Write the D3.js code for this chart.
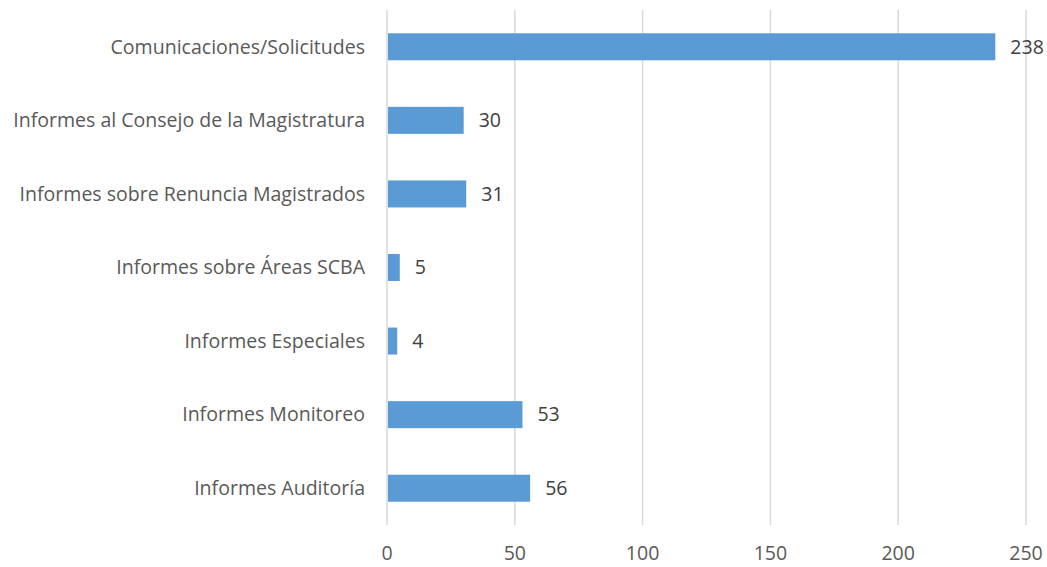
<!DOCTYPE html>
<html><head><meta charset="utf-8">
<script src="https://cdn.jsdelivr.net/npm/d3@7/dist/d3.min.js"></script>
<style>body{margin:0;background:#fff}svg{display:block}</style>
</head><body>
<svg id="chart" width="1047" height="567"></svg>
<script>
const categories = ["Comunicaciones/Solicitudes","Informes al Consejo de la Magistratura","Informes sobre Renuncia Magistrados","Informes sobre Áreas SCBA","Informes Especiales","Informes Monitoreo","Informes Auditoría"];
const values = [238,30,31,5,4,53,56];
const xTicks = [0,50,100,150,200,250];

const svg = d3.select("#chart");
const fontFam = "'Open Sans', sans-serif";
const x = d3.scaleLinear().domain([0,250]).range([387,1026]);
const y = d3.scaleBand().domain(categories).range([10,525]).paddingInner(0.633).paddingOuter(0.3165);

const probe = svg.append("text").attr("font-family",fontFam).attr("font-size",20).text(categories[1]);
const w20 = probe.node().getComputedTextLength();
probe.remove();
const fs = Math.min(21, 20*352/w20);

svg.append("g").selectAll("line").data(xTicks).join("line")
  .attr("x1",d=>x(d)).attr("x2",d=>x(d)).attr("y1",10).attr("y2",525)
  .attr("stroke","#d9d9d9").attr("stroke-width",1.5);

svg.append("g").selectAll("rect").data(values).join("rect")
  .attr("x",x(0)+1).attr("y",(d,i)=>y(categories[i]))
  .attr("width",d=>x(d)-x(0)-1).attr("height",y.bandwidth())
  .attr("fill","#5b9bd5");

svg.append("g").selectAll("text").data(values).join("text")
  .attr("x",d=>x(d)+15).attr("y",(d,i)=>y(categories[i])+y.bandwidth()/2)
  .attr("dy","0.35em").attr("font-family",fontFam).attr("font-size",fs)
  .attr("fill","#404040").text(d=>d);

svg.append("g").selectAll("text").data(categories).join("text")
  .attr("x",365).attr("y",d=>y(d)+y.bandwidth()/2).attr("dy","0.35em")
  .attr("text-anchor","end").attr("font-family",fontFam).attr("font-size",fs)
  .attr("fill","#595959").text(d=>d);

svg.append("g").selectAll("text").data(xTicks).join("text")
  .attr("x",d=>x(d)).attr("y",553).attr("dy","0.35em").attr("text-anchor","middle")
  .attr("font-family",fontFam).attr("font-size",fs).attr("fill","#595959").text(d=>d);
</script>
</body></html>
